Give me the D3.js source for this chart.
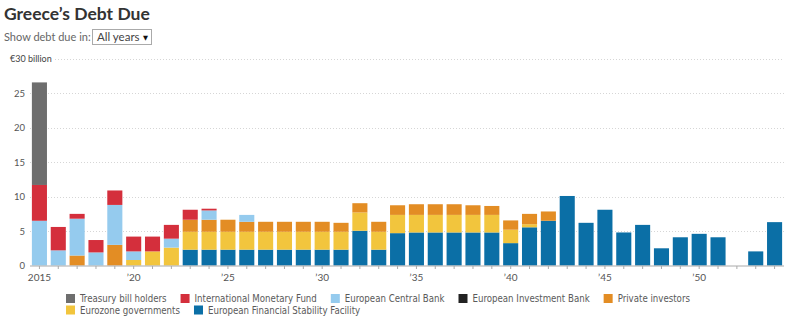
<!DOCTYPE html>
<html>
<head>
<meta charset="utf-8">
<script src="https://cdn.jsdelivr.net/npm/d3@7"></script>
<style>
  html, body { margin: 0; padding: 0; background: #fff; }
  svg { display: block; }
</style>
</head>
<body>
<svg id="chart" width="800" height="334"></svg>
<script>
const years = d3.range(2015, 2055);
const seriesNames = ["Treasury bill holders", "International Monetary Fund", "European Central Bank", "European Investment Bank", "Private investors", "Eurozone governments", "European Financial Stability Facility"];
const seriesColors = ["#6e6e6e", "#d42f3c", "#95cbee", "#222222", "#e38d24", "#f2c53d", "#0b6fa6"];

// values in € billion, one per year 2015..2054
const tbill    = [14.9,0,0,0,0,0,0,0,0,0,0,0,0,0,0,0,0,0,0,0,0,0,0,0,0,0,0,0,0,0,0,0,0,0,0,0,0,0,0,0];
const imf      = [5.2,3.4,0.7,1.8,2.1,2.15,2.15,2.0,1.45,0.25,0,0,0,0,0,0,0,0,0,0,0,0,0,0,0,0,0,0,0,0,0,0,0,0,0,0,0,0,0,0];
const ecb      = [6.5,2.2,5.35,1.9,5.8,1.25,0,1.3,0,1.35,0,1.0,0,0,0,0,0,0,0,0,0,0,0,0,0,0,0,0,0,0,0,0,0,0,0,0,0,0,0,0];
const eib      = [0,0,0,0,0,0,0,0,0,0,0,0,0,0,0,0,0,0,0,0,0,0,0,0,0,0,0,0,0,0,0,0,0,0,0,0,0,0,0,0];
const privateI = [0,0,1.45,0,3.0,0,0,0,1.75,1.75,1.75,1.45,1.45,1.45,1.45,1.45,1.3,1.35,1.45,1.4,1.55,1.55,1.55,1.4,1.3,1.35,1.5,1.35,0,0,0,0,0,0,0,0,0,0,0,0];
const eurozone = [0,0,0,0,0,0.8,2.05,2.6,2.6,2.6,2.6,2.6,2.6,2.6,2.6,2.6,2.6,2.65,2.6,2.65,2.55,2.55,2.55,2.55,2.55,1.95,0.45,0,0,0,0,0,0,0,0,0,0,0,0,0];
const efsf     = [0,0,0,0,0,0,0,0,2.3,2.3,2.3,2.3,2.3,2.3,2.3,2.3,2.3,5.05,2.3,4.7,4.8,4.8,4.8,4.8,4.8,3.25,5.55,6.5,10.1,6.2,8.1,4.8,5.9,2.5,4.1,4.6,4.1,0,2.05,6.3];
const yTicks = [0, 5, 10, 15, 20, 25];
const xLabelYears = [2015, 2020, 2025, 2030, 2035, 2040, 2045, 2050];

const seriesValues = [tbill, imf, ecb, eib, privateI, eurozone, efsf];
const rows = years.map((yr, i) => {
  const r = { year: yr };
  seriesNames.forEach((n, k) => r[n] = seriesValues[k][i]);
  return r;
});

const svg = d3.select("#chart");
const fontMain = "Lato, 'Open Sans', sans-serif";
const fontNarrow = "'Liberation Sans Narrow', 'DejaVu Sans Condensed', 'Arial Narrow', sans-serif";

// Title
svg.append("text").attr("x", 4).attr("y", 19.5)
  .attr("font-family", fontMain).attr("font-weight", 700).attr("font-size", 17.5)
  .attr("fill", "#333").text("Greece\u2019s Debt Due");

svg.append("text").attr("x", 4).attr("y", 40.5)
  .attr("font-family", fontMain).attr("font-size", 11)
  .attr("fill", "#666").text("Show debt due in:");

svg.append("rect").attr("x", 92.5).attr("y", 29.5).attr("width", 59).attr("height", 15)
  .attr("fill", "#fff").attr("stroke", "#aaa");
svg.append("text").attr("x", 97).attr("y", 40.5)
  .attr("font-family", fontMain).attr("font-size", 11.5)
  .attr("fill", "#444").text("All years");
svg.append("text").attr("x", 143).attr("y", 39.5)
  .attr("font-family", "DejaVu Sans, sans-serif").attr("font-size", 6.5)
  .attr("fill", "#111").text("\u25BC");

const x = d3.scaleBand().domain(years).range([30, 784]).paddingInner(0.2).paddingOuter(0.1);
const y = d3.scaleLinear().domain([0, 30]).range([265.5, 59]);

// gridlines
const gridVals = [5, 10, 15, 20, 25, 30];
svg.append("g").selectAll("line").data(gridVals).join("line")
  .attr("x1", d => d === 30 ? 55 : 30).attr("x2", 784)
  .attr("y1", d => Math.round(y(d)) + 0.5).attr("y2", d => Math.round(y(d)) + 0.5)
  .attr("stroke", "#d6d6d6").attr("stroke-dasharray", "1,2");

// y labels
svg.append("g").selectAll("text").data(yTicks).join("text")
  .attr("x", 25).attr("y", d => y(d) + 3.5).attr("text-anchor", "end")
  .attr("font-family", fontMain).attr("font-size", 9.5).attr("fill", "#555")
  .text(d => d);
svg.append("text").attr("x", 10).attr("y", y(30) + 3)
  .attr("font-family", fontMain).attr("font-size", 9).attr("fill", "#444")
  .text("\u20AC30 billion");

// stacks
const stackOrder = seriesNames.slice().reverse();
const stack = d3.stack().keys(stackOrder)(rows);
const color = d3.scaleOrdinal().domain(seriesNames).range(seriesColors);

svg.append("g").selectAll("g").data(stack).join("g")
  .attr("fill", d => color(d.key))
  .selectAll("rect").data(d => d.filter(p => p[1] - p[0] > 0)).join("rect")
  .attr("x", d => x(d.data.year))
  .attr("width", x.bandwidth())
  .attr("y", d => y(d[1]))
  .attr("height", d => y(d[0]) - y(d[1]));

// x axis
const xAxis = d3.axisBottom(x).tickSize(3).tickFormat(d => xLabelYears.includes(d) ? (d === 2015 ? "2015" : "\u2019" + String(d).slice(2)) : "");
const gx = svg.append("g").attr("transform", `translate(0,${y(0) + 0.5})`).call(xAxis);
gx.select(".domain").attr("stroke", "#aaa").attr("d", "M30,0H784");
gx.selectAll(".tick line").attr("stroke", "#aaa");
gx.selectAll(".tick text").attr("font-family", fontMain).attr("font-size", 10).attr("fill", "#555").attr("dy", "0.9em");

// legend
const legend = svg.append("g");
let lx = 66, ly = 294;
const maxX = 790;
seriesNames.forEach((n, k) => {
  const g = legend.append("g");
  g.append("rect").attr("x", 0).attr("y", 0).attr("width", 9).attr("height", 9).attr("fill", seriesColors[k]);
  const t = g.append("text").attr("x", 14).attr("y", 8)
    .attr("font-family", fontNarrow).attr("font-size", 9.6).attr("fill", "#5a5a5a").text(n);
  const w = 14 + t.node().getComputedTextLength() + 14;
  if (lx + w > maxX) { lx = 66; ly += 11.5; }
  g.attr("transform", `translate(${lx},${ly})`);
  lx += w;
});
</script>
</body>
</html>
